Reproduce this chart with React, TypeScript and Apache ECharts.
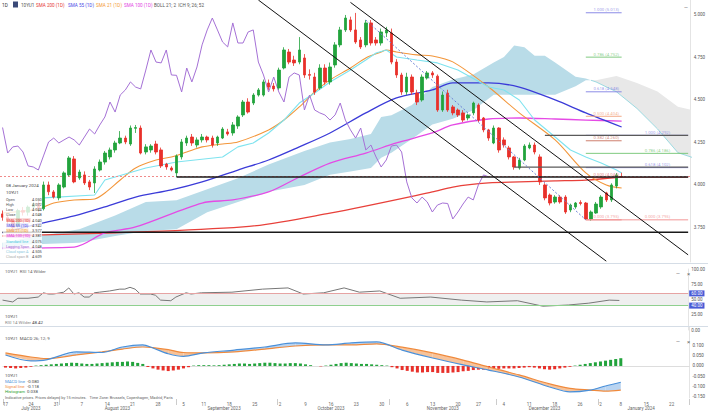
import React, { useEffect, useRef } from "react";
import * as echarts from "echarts";

// ---------- categories ----------
const FIRST_DAY = "2023-07-17";
const DAY_COUNT = 135;
const HOLIDAYS = ["2023-09-04", "2023-11-23", "2023-12-25", "2024-01-01"];
const MONTH_NAMES = ["January", "February", "March", "April", "May", "June", "July", "August", "September", "October", "November", "December"];

// ---------- price candles [open, close, low, high] ----------
const OHLC: number[][] = [
  [3.83, 3.81, 3.79, 3.85], [3.81, 3.79, 3.77, 3.83], [3.79, 3.75, 3.73, 3.8], [3.76, 3.85, 3.75, 3.86], [3.85, 3.84, 3.82, 3.87],
  [3.84, 3.87, 3.82, 3.88], [3.87, 3.89, 3.85, 3.9], [3.89, 3.86, 3.84, 3.91], [3.86, 4.0, 3.85, 4.02], [4.0, 3.96, 3.94, 4.02],
  [3.959, 3.929, 3.92, 3.97], [3.924, 4.0, 3.91, 4.01], [3.988, 4.071, 3.98, 4.08], [4.059, 4.159, 4.05, 4.17], [4.153, 4.018, 4.01, 4.17],
  [4.041, 4.076, 4.03, 4.09], [4.059, 4.012, 4.0, 4.08], [4.018, 3.988, 3.97, 4.03], [4.012, 4.094, 3.953, 4.11], [4.088, 4.135, 4.08, 4.15],
  [4.135, 4.188, 4.12, 4.2], [4.165, 4.206, 4.15, 4.22], [4.206, 4.247, 4.19, 4.26], [4.247, 4.276, 4.24, 4.317], [4.276, 4.253, 4.24, 4.29],
  [4.241, 4.335, 4.23, 4.35], [4.333, 4.338, 4.306, 4.353], [4.335, 4.188, 4.18, 4.35], [4.194, 4.224, 4.18, 4.24], [4.206, 4.229, 4.19, 4.24],
  [4.241, 4.194, 4.18, 4.26], [4.206, 4.112, 4.1, 4.22], [4.123, 4.106, 4.09, 4.13], [4.1, 4.088, 4.08, 4.11], [4.071, 4.171, 4.047, 4.18],
  [4.165, 4.253, 4.15, 4.27], [4.247, 4.276, 4.23, 4.29], [4.282, 4.247, 4.23, 4.3], [4.235, 4.265, 4.22, 4.28], [4.265, 4.282, 4.25, 4.3],
  [4.282, 4.265, 4.25, 4.29], [4.276, 4.235, 4.22, 4.29], [4.247, 4.282, 4.23, 4.29], [4.276, 4.329, 4.27, 4.34], [4.312, 4.3, 4.29, 4.33],
  [4.306, 4.353, 4.29, 4.37], [4.347, 4.4, 4.33, 4.41], [4.412, 4.488, 4.4, 4.5], [4.488, 4.429, 4.42, 4.51], [4.482, 4.529, 4.47, 4.54],
  [4.529, 4.559, 4.52, 4.57], [4.529, 4.606, 4.52, 4.62], [4.6, 4.576, 4.56, 4.62], [4.582, 4.565, 4.55, 4.6], [4.571, 4.676, 4.56, 4.69],
  [4.688, 4.794, 4.68, 4.81], [4.782, 4.723, 4.71, 4.8], [4.735, 4.718, 4.7, 4.76], [4.723, 4.794, 4.71, 4.87], [4.747, 4.647, 4.63, 4.77],
  [4.65, 4.645, 4.62, 4.68], [4.635, 4.547, 4.53, 4.66], [4.571, 4.688, 4.56, 4.71], [4.688, 4.606, 4.59, 4.71], [4.606, 4.694, 4.59, 4.72],
  [4.706, 4.824, 4.69, 4.84], [4.824, 4.912, 4.81, 4.93], [4.912, 4.982, 4.9, 5.0], [4.971, 4.912, 4.9, 4.99], [4.912, 4.841, 4.83, 5.012],
  [4.853, 4.812, 4.8, 4.87], [4.824, 4.953, 4.81, 4.97], [4.953, 4.835, 4.82, 4.97], [4.853, 4.835, 4.82, 4.87], [4.835, 4.9, 4.82, 4.92],
  [4.894, 4.912, 4.87, 4.93], [4.894, 4.723, 4.71, 4.92], [4.723, 4.647, 4.63, 4.74], [4.647, 4.547, 4.53, 4.66], [4.547, 4.635, 4.53, 4.66],
  [4.635, 4.547, 4.53, 4.65], [4.541, 4.488, 4.47, 4.56], [4.5, 4.635, 4.49, 4.65], [4.629, 4.659, 4.62, 4.67], [4.659, 4.647, 4.63, 4.67],
  [4.64, 4.441, 4.43, 4.65], [4.441, 4.529, 4.43, 4.55], [4.541, 4.441, 4.43, 4.56], [4.459, 4.424, 4.41, 4.47], [4.441, 4.412, 4.4, 4.45],
  [4.424, 4.382, 4.37, 4.44], [4.394, 4.412, 4.38, 4.42], [4.424, 4.482, 4.41, 4.49], [4.47, 4.382, 4.37, 4.48], [4.394, 4.324, 4.31, 4.4],
  [4.324, 4.276, 4.26, 4.33], [4.247, 4.335, 4.24, 4.35], [4.335, 4.206, 4.19, 4.34], [4.265, 4.235, 4.22, 4.28], [4.218, 4.165, 4.15, 4.23],
  [4.165, 4.106, 4.09, 4.17], [4.1, 4.147, 4.09, 4.16], [4.147, 4.229, 4.14, 4.24], [4.218, 4.235, 4.21, 4.25], [4.235, 4.194, 4.18, 4.25],
  [4.165, 4.018, 4.0, 4.18], [4.0, 3.924, 3.91, 4.01], [3.941, 3.894, 3.88, 3.95], [3.9, 3.929, 3.89, 3.94], [3.929, 3.9, 3.89, 3.94],
  [3.929, 3.841, 3.83, 3.94], [3.853, 3.882, 3.84, 3.89], [3.871, 3.894, 3.86, 3.9], [3.897, 3.891, 3.88, 3.91], [3.894, 3.8, 3.795, 3.9],
  [3.8, 3.841, 3.79, 3.85], [3.835, 3.888, 3.83, 3.9], [3.871, 3.929, 3.86, 3.94], [3.953, 3.912, 3.9, 3.96], [3.912, 4.0, 3.9, 4.01],
  [3.994, 4.059, 3.98, 4.07], [4.05, 4.048, 4.044, 4.072],
];
const LAG = 26;

// ---------- overlays, read as [bar index, value] ----------
const SMA21 = [[0, 3.835], [7, 3.859], [10, 3.894], [14, 3.912], [18, 3.918], [20, 3.953], [23, 4.029], [26, 4.1], [30, 4.147], [33, 4.165], [36, 4.194], [39, 4.224], [43, 4.241], [46, 4.253], [52, 4.324], [55, 4.382], [58, 4.459], [61, 4.547], [64, 4.618], [68, 4.688], [71, 4.747], [74, 4.782], [75, 4.794], [77, 4.782], [81, 4.765], [84, 4.759], [88, 4.724], [95, 4.576], [101, 4.424], [108, 4.265], [114, 4.071], [118, 4.0], [121, 3.982]];
const SMA55 = [[0, 3.718], [7, 3.771], [14, 3.818], [20, 3.871], [26, 3.929], [33, 3.971], [39, 4.018], [46, 4.088], [52, 4.147], [58, 4.224], [64, 4.306], [71, 4.424], [77, 4.512], [84, 4.559], [88, 4.6], [95, 4.6], [101, 4.576], [108, 4.5], [114, 4.424], [121, 4.341]];
const SMA100 = [[0, 3.629], [14, 3.635], [20, 3.718], [26, 3.753], [39, 3.894], [45, 3.912], [52, 3.959], [58, 4.047], [64, 4.129], [71, 4.188], [77, 4.247], [84, 4.306], [88, 4.353], [95, 4.388], [101, 4.394], [108, 4.388], [114, 4.382], [121, 4.376]];
const SMA200 = [[0, 3.7], [47, 3.753], [64, 3.835], [84, 3.959], [88, 3.988], [95, 4.012], [101, 4.018], [108, 4.024], [114, 4.029], [121, 4.047]];
const KIJUN = [[8, 3.924], [18, 3.941], [20, 4.029], [28, 4.1], [34, 4.135], [43, 4.165], [46, 4.224], [49, 4.247], [52, 4.306], [55, 4.382], [58, 4.482], [61, 4.541], [64, 4.606], [68, 4.676], [71, 4.735], [73, 4.776], [75, 4.794], [77, 4.753], [81, 4.735], [85, 4.718], [89, 4.676], [95, 4.576], [98, 4.559], [101, 4.5], [104, 4.382], [108, 4.282], [111, 4.206], [114, 4.165], [117, 4.129], [120, 4.088], [121, 4.071]];
// cloud edges [index, span A, span B]
const CLOUD_UP = [[0, 3.66, 3.62], [5, 3.69, 3.65], [15, 3.74, 3.66], [22, 3.82, 3.7], [28, 3.9, 3.73], [34, 3.91, 3.74], [40, 3.975, 3.84], [46, 4.04, 3.9], [52, 4.12, 3.96], [59, 4.2, 4.0], [64, 4.25, 4.06], [68, 4.27, 4.08], [72, 4.3, 4.1], [74, 4.4, 4.16], [76, 4.41, 4.19], [80, 4.47, 4.27], [84, 4.577, 4.355], [88, 4.62, 4.39], [92, 4.65, 4.44], [96, 4.72, 4.53], [98, 4.753, 4.53], [100, 4.82, 4.53], [102, 4.81, 4.53], [104, 4.76, 4.53], [106, 4.76, 4.53], [108, 4.72, 4.53], [112, 4.636, 4.58], [114, 4.626, 4.616], [115, 4.616, 4.616]];
const CLOUD_DOWN = [[115, 4.616, 4.616], [116, 4.616, 4.606], [120, 4.641, 4.548], [124, 4.6, 4.45], [128, 4.55, 4.33], [132, 4.46, 4.19], [134.5, 4.44, 4.16]];

// ---------- drawings ----------
const H_LINES = [[0, 3.722, "#1a1a1a"], [34, 4.047, "#1a1a1a"], [100, 4.105, "#5a5a5a"], [106, 4.292, "#5a5a5a"]];
const RIGHT_END = 134;
const LAST_PRICE = 4.048;
const TREND_LINES = [[[50, 5.088], [118, 3.552]], [[68, 5.074], [134, 3.589]]];
const SWING_LINE = [[71, 4.97], [114, 3.795]];
const FIB_A = [[5.013, "1.000 (5.013)", "#7f7fe3"], [4.752, "0.786 (4.752)", "#72c472"], [4.548, "0.618 (4.548)", "#7f7fe3"], [4.404, "0.500 (4.404)", "#f2a27c"], [4.26, "0.382 (4.260)", "#c8705e"], [3.795, "0.000 (3.795)", "#f08a8a"]];
const FIB_B = [[4.292, "1.000 (4.292)", "#7f7fe3"], [4.186, "0.786 (4.186)", "#72c472"], [4.102, "0.618 (4.102)", "#7f7fe3"], [3.795, "0.000 (3.795)", "#f08a8a"]];
const FIB_B_MID = [[4.044, "0.500 (4.044)", "#e26a6a"]];
const FIB_A_RANGE = [114, 121];
const FIB_B_RANGE = [114, 134];
const FIB_B_LABEL_AT = 128;
const PRICE_TAGS = [[4.292, "#4a5bd6"], [4.102, "#4a5bd6"], [4.047, "#2c3266"], [3.722, "#4a5bd6"]];
const PRICE_TICKS = [3.75, 4.0, 4.25, 4.5, 4.75, 5.0];

// ---------- RSI ----------
const RSI = [[0, 49], [2, 46], [3, 52], [5, 52], [7, 54], [8, 61], [9, 59], [10, 59], [12, 62], [13, 69], [14, 59], [15, 61], [16, 54], [17, 54], [18, 61], [19, 62], [21, 64], [23, 67], [24, 67], [25, 70], [26, 67], [27, 59], [29, 59], [30, 57], [31, 49], [33, 48], [34, 54], [36, 61], [37, 59], [39, 61], [45, 62], [51, 67], [56, 69], [59, 59], [63, 61], [67, 69], [70, 62], [74, 64], [78, 52], [84, 54], [90, 49], [95, 46], [101, 48], [106, 39], [111, 41], [115, 44], [119, 49], [121, 48.42]];
const RSI_TICKS = [0, 25, 50, 75, 100];

// ---------- MACD ----------
const MACD_IDX = [0, 5, 8, 14, 19, 23, 27, 29, 32, 35, 39, 45, 51, 57, 63, 68, 73, 78, 84, 90, 95, 101, 107, 111, 115, 118, 121];
const MACD_LINE = [0.054, 0.025, 0.03, 0.069, 0.066, 0.093, 0.103, 0.088, 0.06, 0.047, 0.064, 0.078, 0.093, 0.113, 0.103, 0.113, 0.118, 0.078, 0.039, 0.005, -0.02, -0.054, -0.103, -0.127, -0.118, -0.098, -0.08];
const SIGNAL_LINE = [0.064, 0.044, 0.036, 0.054, 0.069, 0.083, 0.093, 0.09, 0.08, 0.066, 0.064, 0.069, 0.083, 0.098, 0.103, 0.103, 0.108, 0.092, 0.064, 0.029, -0.005, -0.044, -0.088, -0.11, -0.118, -0.123, -0.118];
const HISTOGRAM = [
  -0.008, -0.01, -0.012, -0.01, -0.008, -0.004, 0.002, 0.004, 0.006, 0.008, 0.01, 0.012, 0.014, 0.016, 0.015, 0.012, 0.01, 0.01, 0.012, 0.014,
  0.016, 0.018, 0.02, 0.02, 0.022, 0.02, 0.015, 0.01, -0.005, -0.012, -0.018, -0.022, -0.025, -0.022, -0.018, -0.012, -0.006, 0.002, 0.004, 0.004,
  0.004, 0.003, 0.004, 0.006, 0.008, 0.01, 0.012, 0.012, 0.01, 0.012, 0.014, 0.016, 0.016, 0.014, 0.012, 0.012, 0.014, 0.014, 0.012, 0.008,
  0.004, 0.0, -0.002, 0.002, 0.006, 0.01, 0.014, 0.016, 0.014, 0.012, 0.01, 0.01, 0.008, 0.006, 0.004, 0.002, -0.006, -0.012, -0.02, -0.024,
  -0.028, -0.032, -0.032, -0.03, -0.03, -0.034, -0.034, -0.034, -0.032, -0.03, -0.026, -0.024, -0.02, -0.018, -0.018, -0.018, -0.016, -0.014, -0.012, -0.012,
  -0.012, -0.01, -0.008, -0.006, -0.008, -0.012, -0.016, -0.018, -0.016, -0.012, -0.008, -0.004, 0.002, 0.006, 0.01, 0.014, 0.018, 0.022, 0.026, 0.03,
  0.034, 0.038,
];
const MACD_TICKS = [-0.15, -0.1, -0.05, 0, 0.05, 0.1];

// ---------- texts ----------
const LEGEND_ITEMS = [["10YU1", "#555", 21], ["SMA 200 (1D)", "#e53935", 36], ["SMA 55 (1D)", "#4b4be6", 68], ["SMA 21 (1D)", "#f39a35", 96], ["SMA 100 (1D)", "#e23fe2", 124], ["BOLL 21; 2  ICH 9; 26; 52", "#555", 154]];
const INFO_ROWS = [
  ["Open", "4.050", "#555", ""], ["High", "4.072", "#555", ""], ["Low", "4.044", "#555", ""], ["Close", "4.048", "#555", ""],
  ["SMA 200 (1D)", "4.040", "#e53935", "rgba(229,57,53,0.18)"], ["SMA 55 (1D)", "4.342", "#4b4be6", "rgba(75,75,230,0.15)"],
  ["SMA 21 (1D)", "3.977", "#f39a35", "rgba(243,154,53,0.2)"], ["SMA 100 (1D)", "4.381", "#e23fe2", "rgba(226,63,226,0.18)"],
  ["Standard line", "4.075", "#48c8e0", ""], ["Lagging Span", "4.048", "#9a5fd0", ""], ["Cloud span A", "4.505", "#8cc8dc", ""], ["Cloud span B", "4.609", "#aaaaaa", ""],
];
const MACD_INFO = [["MACD line", "-0.080", "#4a90d9"], ["Signal line", "-0.118", "#f08a3c"], ["Histogram", "0.038", "#2ca02c"]];
const DISCLAIMER = "Indicative prices. Prices delayed by 15 minutes.   Time Zone: Brussels, Copenhagen, Madrid, Paris";

const FONT = "Roboto, 'Noto Sans', sans-serif";
const GREEN = "#22a33c";
const RED = "#e8302a";

function tradingDays(): string[] {
  const out: string[] = [];
  const d = new Date(FIRST_DAY + "T00:00:00Z");
  while (out.length < DAY_COUNT) {
    const wd = d.getUTCDay();
    const s = d.toISOString().slice(0, 10);
    if (wd !== 0 && wd !== 6 && HOLIDAYS.indexOf(s) < 0) out.push(s);
    d.setUTCDate(d.getUTCDate() + 1);
  }
  return out;
}

function txt(x: number, y: number, text: string, fill: string, size = 4.6, extra: any = {}) {
  return { type: "text", x, y, silent: true, z: 200, style: { text, fill, fontSize: size, fontFamily: FONT, verticalAlign: "middle", ...extra } };
}

function polygonSeries(points: number[][], color: string, z: number) {
  return {
    type: "custom", xAxisIndex: 0, yAxisIndex: 0, data: points, encode: { x: 0, y: [1, 2] }, clip: true, silent: true, z,
    renderItem: (params: any, api: any) => {
      if (params.dataIndex !== 0) return { type: "group", children: [] };
      const top = points.map((p) => api.coord([p[0], p[1]]));
      const bottom = points.slice().reverse().map((p) => api.coord([p[0], p[2]]));
      return { type: "polygon", shape: { points: top.concat(bottom) }, style: { fill: color } };
    },
  };
}

function segSeries(pts: number[][], color: string, width: number, z: number, type: any = "solid") {
  return {
    type: "line", xAxisIndex: 0, yAxisIndex: 0, data: pts, symbol: "none", silent: true, z, clip: true,
    lineStyle: { color, width, type },
  };
}

export default function App() {
  const ref = useRef<HTMLDivElement>(null);
  useEffect(() => {
    if (!ref.current) return;
    const chart = echarts.init(ref.current, undefined, { renderer: "svg" });
    const days = tradingDays();

    const weekStart: Record<number, boolean> = {};
    days.forEach((s, i) => {
      if (i === 0) { weekStart[i] = true; return; }
      const prev = new Date(days[i - 1] + "T00:00:00Z").getUTCDay();
      const cur = new Date(s + "T00:00:00Z").getUTCDay();
      if (cur < prev) weekStart[i] = true;
    });
    const monthGroups: Record<string, number[]> = {};
    days.forEach((s, i) => { const k = s.slice(0, 7); (monthGroups[k] = monthGroups[k] || []).push(i); });
    const monthMid: Record<number, boolean> = {};
    const monthFirst: Record<number, boolean> = {};
    Object.keys(monthGroups).forEach((k) => {
      const g = monthGroups[k];
      monthMid[g[Math.floor((g.length - 1) / 2)]] = true;
      monthFirst[g[0]] = true;
    });

    const closes = OHLC.map((c) => c[1]);
    const lagging = closes.slice(LAG).map((v, i) => [i, v]);

    const lineS = (data: number[][], color: string, width: number, z = 3, extra: any = {}) => ({
      type: "line", xAxisIndex: 0, yAxisIndex: 0, data, symbol: "none", smooth: 0.3, silent: true, z,
      lineStyle: { color, width }, ...extra,
    });

    const drawings: any[] = [];
    FIB_A.forEach((f) => drawings.push(segSeries([[FIB_A_RANGE[0], f[0] as number], [FIB_A_RANGE[1], f[0] as number]], f[2] as string, 0.9, 6)));
    FIB_B.concat(FIB_B_MID).forEach((f) => drawings.push(segSeries([[FIB_B_RANGE[0], f[0] as number], [FIB_B_RANGE[1], f[0] as number]], f[2] as string, 0.9, 6)));
    H_LINES.forEach((h) => drawings.push(segSeries([[h[0] as number, h[1] as number], [RIGHT_END, h[1] as number]], h[2] as string, 1.4, 7)));
    TREND_LINES.forEach((t) => drawings.push(segSeries(t as number[][], "#111", 1, 7)));
    drawings.push(segSeries(SWING_LINE, "#6b7fd6", 1, 7, [2, 2]));

    const tagLines = PRICE_TAGS.map((t) => ({
      yAxis: t[0], lineStyle: { opacity: 0 },
      label: { show: true, position: "end", distance: 1, formatter: (t[0] as number).toFixed(3), color: "#fff", backgroundColor: t[1], padding: [1, 2, 0, 2], borderRadius: 1, fontSize: 4.5, fontFamily: FONT },
    }));

    const fibLabelData: any[] = [];
    FIB_A.concat(FIB_B_MID).forEach((f) => fibLabelData.push({ value: [(FIB_A_RANGE[0] + FIB_A_RANGE[1]) / 2, f[0]], label: { formatter: f[1], color: f[2] } }));
    FIB_B.forEach((f) => fibLabelData.push({ value: [FIB_B_LABEL_AT, f[0]], label: { formatter: f[1], color: f[2] } }));

    const macdData = MACD_IDX.map((x, i) => [x, MACD_LINE[i]]);
    const signalData = MACD_IDX.map((x, i) => [x, SIGNAL_LINE[i]]);
    const spanAGray = CLOUD_DOWN.map((p) => [p[0], p[2]]);

    const option: any = {
      animation: false,
      backgroundColor: "#ffffff",
      textStyle: { fontFamily: FONT },
      grid: [
        { left: -6, right: 15, top: 0, height: 262 },
        { left: -6, right: 15, top: 269, height: 61 },
        { left: -6, right: 15, top: 327, height: 71 },
      ],
      xAxis: [
        { type: "category", gridIndex: 0, data: days, show: false, boundaryGap: true },
        { type: "category", gridIndex: 1, data: days, show: false, boundaryGap: true },
        {
          type: "category", gridIndex: 2, data: days, boundaryGap: true,
          axisLine: { show: true, lineStyle: { color: "#dddddd" } },
          axisTick: { show: false },
          axisLabel: {
            interval: (i: number) => !!weekStart[i], formatter: (v: string) => String(Number(v.slice(8))),
            fontSize: 4.5, color: "#666", margin: 4,
          },
        },
        {
          type: "category", gridIndex: 2, data: days, boundaryGap: true, position: "bottom", offset: 7,
          axisLine: { show: false },
          axisTick: { show: true, interval: (i: number) => !!monthFirst[i], length: 6, inside: true, lineStyle: { color: "#cccccc" } },
          axisLabel: {
            interval: (i: number) => !!monthMid[i],
            formatter: (v: string) => MONTH_NAMES[Number(v.slice(5, 7)) - 1] + " " + v.slice(0, 4),
            fontSize: 4.5, color: "#666", margin: 1,
          },
        },
      ],
      yAxis: [
        {
          type: "value", gridIndex: 0, position: "right", min: 3.547, max: 5.088, splitLine: { show: false },
          axisLine: { show: true, lineStyle: { color: "#e4e4e4" } }, axisTick: { show: false },
          axisLabel: { customValues: PRICE_TICKS, formatter: (v: number) => v.toFixed(3), fontSize: 4.5, color: "#555", margin: 3 },
        },
        {
          type: "value", gridIndex: 1, position: "right", min: 0, max: 100, splitLine: { show: false },
          axisLine: { show: true, lineStyle: { color: "#e4e4e4" } }, axisTick: { show: false },
          axisLabel: { customValues: RSI_TICKS, formatter: (v: number) => v.toFixed(2), fontSize: 4.5, color: "#555", margin: 3 },
        },
        {
          type: "value", gridIndex: 2, position: "right", min: -0.157, max: 0.191, splitLine: { show: false },
          axisLine: { show: true, lineStyle: { color: "#e4e4e4" } }, axisTick: { show: false },
          axisLabel: { customValues: MACD_TICKS, formatter: (v: number) => v.toFixed(3), fontSize: 4.5, color: "#555", margin: 3 },
        },
      ],
      series: [
        polygonSeries(CLOUD_UP, "#b9dce8", 1),
        polygonSeries(CLOUD_DOWN, "#e8e8e8", 1),
        segSeries(spanAGray, "#86d3dc", 0.8, 2),
        lineS(SMA200, "#e8403a", 1.3),
        lineS(SMA100, "#e54ae5", 1.3),
        lineS(SMA55, "#3b3bd8", 1.3),
        lineS(SMA21, "#f3963a", 1.1),
        lineS(KIJUN, "#7ee3ef", 1.1, 3, { smooth: false }),
        lineS(lagging, "#a571d6", 1, 3, { smooth: false }),
        ...drawings,
        {
          type: "candlestick", xAxisIndex: 0, yAxisIndex: 0, data: OHLC, barWidth: 3, z: 5, silent: true,
          itemStyle: { color: GREEN, color0: RED, borderColor: GREEN, borderColor0: RED, borderWidth: 0.8 },
          markLine: { silent: true, symbol: ["none", "none"], animation: false, data: tagLines },
        },
        {
          type: "line", xAxisIndex: 0, yAxisIndex: 0, data: [], silent: true,
          markLine: {
            silent: true, symbol: ["none", "none"], label: { show: false },
            data: [{ yAxis: LAST_PRICE, lineStyle: { color: "#f08a8a", width: 1, type: [2, 2] } }],
          },
        },
        {
          type: "scatter", xAxisIndex: 0, yAxisIndex: 0, data: fibLabelData, symbolSize: 1, itemStyle: { color: "rgba(0,0,0,0)" }, silent: true, z: 8,
          label: { show: true, position: "top", distance: 0.5, fontSize: 4.3, fontFamily: FONT },
        },
        // RSI
        {
          type: "line", xAxisIndex: 1, yAxisIndex: 1, data: RSI, symbol: "none", silent: true, z: 4,
          lineStyle: { color: "#777", width: 1 },
          markArea: { silent: true, itemStyle: { color: "#efefef" }, data: [[{ yAxis: 40 }, { yAxis: 60 }]] },
          markLine: {
            silent: true, symbol: ["none", "none"],
            data: [
              { yAxis: 60, lineStyle: { color: "#e6a3a3", width: 1.2, type: "solid" }, label: { show: true, position: "end", distance: 1, formatter: "60.00", color: "#fff", backgroundColor: "#4a5bd6", padding: [1, 2, 0, 2], fontSize: 4.5 } },
              { yAxis: 40, lineStyle: { color: "#8fd08f", width: 1.2, type: "solid" }, label: { show: true, position: "end", distance: 1, formatter: "40.00", color: "#fff", backgroundColor: "#4a5bd6", padding: [1, 2, 0, 2], fontSize: 4.5 } },
            ],
          },
        },
        // MACD
        {
          type: "bar", xAxisIndex: 2, yAxisIndex: 2, data: HISTOGRAM.map((v) => ({ value: v, itemStyle: { color: v >= 0 ? GREEN : RED } })),
          barWidth: 3, silent: true, z: 2,
        },
        {
          type: "custom", xAxisIndex: 2, yAxisIndex: 2, data: MACD_IDX.map((x, i) => [x, MACD_LINE[i], SIGNAL_LINE[i]]),
          encode: { x: 0, y: [1, 2] }, silent: true, z: 3,
          renderItem: (params: any, api: any) => {
            const i = params.dataIndex;
            if (i >= MACD_IDX.length - 1) return { type: "group", children: [] };
            const x0 = MACD_IDX[i], x1 = MACD_IDX[i + 1];
            const a0 = MACD_LINE[i], a1 = MACD_LINE[i + 1], b0 = SIGNAL_LINE[i], b1 = SIGNAL_LINE[i + 1];
            const d0 = a0 - b0, d1 = a1 - b1;
            const col = (d: number) => (d >= 0 ? "#b9d4f1" : "#f7c39a");
            if (d0 * d1 >= 0) {
              return { type: "polygon", shape: { points: [api.coord([x0, a0]), api.coord([x1, a1]), api.coord([x1, b1]), api.coord([x0, b0])] }, style: { fill: col(d0 + d1) } };
            }
            const t = d0 / (d0 - d1);
            const xc = x0 + (x1 - x0) * t, yc = a0 + (a1 - a0) * t;
            return {
              type: "group", children: [
                { type: "polygon", shape: { points: [api.coord([x0, a0]), api.coord([xc, yc]), api.coord([x0, b0])] }, style: { fill: col(d0) } },
                { type: "polygon", shape: { points: [api.coord([xc, yc]), api.coord([x1, a1]), api.coord([x1, b1])] }, style: { fill: col(d1) } },
              ],
            };
          },
        },
        { type: "line", xAxisIndex: 2, yAxisIndex: 2, data: signalData, symbol: "none", smooth: 0.3, silent: true, z: 4, lineStyle: { color: "#f08a3c", width: 1.2 } },
        { type: "line", xAxisIndex: 2, yAxisIndex: 2, data: macdData, symbol: "none", smooth: 0.3, silent: true, z: 4, lineStyle: { color: "#4a90d9", width: 1.2 } },
      ],
      graphic: [
        { type: "line", silent: true, z: 150, shape: { x1: 0, y1: 263.5, x2: 708, y2: 263.5 }, style: { stroke: "#d5dde6", lineWidth: 1 } },
        { type: "line", silent: true, z: 150, shape: { x1: 0, y1: 326.5, x2: 708, y2: 326.5 }, style: { stroke: "#d5dde6", lineWidth: 1 } },
        txt(2, 5, "1D", "#333", 4.8),
        { type: "rect", silent: true, z: 200, shape: { x: 13, y: 1.5, width: 5, height: 6 }, style: { fill: "#3b4a78" } },
        ...LEGEND_ITEMS.map((l) => txt(l[2] as number, 5, l[0] as string, l[1] as string, 4.6)),
        txt(684, 7, "—", "#666", 5),
        { type: "rect", silent: true, z: 190, shape: { x: 3, y: 180, width: 39, height: 82 }, style: { fill: "rgba(255,255,255,0.8)" } },
        txt(6, 185, "08 January 2024", "#444", 4.4),
        txt(6, 192.5, "10YU1", "#444", 4.4),
        ...INFO_ROWS.map((r, i) => txt(6, 199 + i * 5.25, r[0], r[2], 3.8, r[3] ? { backgroundColor: r[3], padding: [0, 0.5] } : {})),
        ...INFO_ROWS.map((r, i) => txt(32, 199 + i * 5.25, r[1], "#444", 3.9)),
        txt(5, 271, "10YU1  RSI 14 Wilder", "#666", 4.4),
        txt(676, 273, "—", "#666", 5), txt(687, 273, "×", "#666", 6),
        txt(5, 316, "10YU1", "#555", 4.4),
        txt(5, 322.5, "RSI 14 Wilder", "#888", 4.4), txt(32, 322.5, "48.42", "#444", 4.4),
        txt(5, 338, "10YU1  MACD 26; 12; 9", "#555", 4.4),
        txt(676, 341, "—", "#666", 5), txt(687, 341, "×", "#666", 6),
        txt(5, 375, "10YU1", "#555", 4.4),
        ...MACD_INFO.map((r, i) => txt(5, 381 + i * 5.3, r[0], r[2], 4.3)),
        ...MACD_INFO.map((r, i) => txt(27, 381 + i * 5.3, r[1], "#444", 4.3)),
        txt(5, 397.5, DISCLAIMER, "#666", 3.9),
      ],
    };
    chart.setOption(option);
    return () => chart.dispose();
  }, []);
  return <div ref={ref} style={{ position: "fixed", left: 0, top: 0, width: 708, height: 412, background: "#fff" }} />;
}
